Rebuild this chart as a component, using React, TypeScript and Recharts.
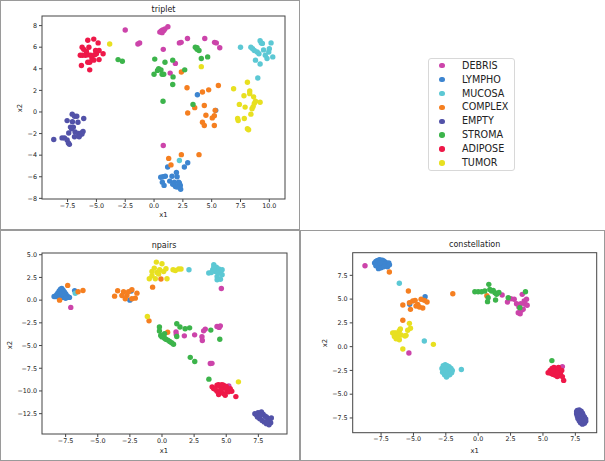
import React from 'react'
import { ScatterChart, Scatter, XAxis, YAxis } from 'recharts'

type Pt = [number, number]

const classes = ['DEBRIS', 'LYMPHO', 'MUCOSA', 'COMPLEX', 'EMPTY', 'STROMA', 'ADIPOSE', 'TUMOR']
const colors = ['#cc44aa', '#3d85d0', '#5cc8d4', '#f57f20', '#5252a8', '#3cb44b', '#ee1848', '#e8e020']

// ---- triplet ----
const tDebris: Pt[] = [[-2.5, 7.6], [-1.4, 6.3], [-1.25, 6.4], [0.5, 7.4], [0.62, 7.5], [0.75, 7.6], [0.85, 7.55], [0.95, 7.7], [1.2, 7.9], [0.7, 7.35], [0.8, 5.8], [1.85, 4.5], [1.4, 3.6], [2.2, 6.4], [2.35, 6.45], [2.9, 6.8], [4.4, 6.8], [5.25, 6.45], [5.4, 6.4], [5.7, 5.95], [0.8, -3.1]]
const tLympho: Pt[] = [[0.78, -6.0], [0.58, -6.05], [0.98, -5.95], [0.72, -6.5], [0.87, -6.8], [1.18, -5.1], [1.36, -6.4], [1.56, -5.95], [1.76, -6.5], [1.94, -5.6], [2.0, -6.0], [2.14, -6.5], [2.28, -6.8], [1.85, -6.9], [2.31, -7.15], [2.2, -6.6], [2.63, -5.1], [2.92, -4.7], [1.62, -6.7], [2.0, -6.95], [3.76, 1.6], [5.35, 0.15]]
const tMucosa: Pt[] = [[7.5, 6.0], [8.4, 6.0], [8.55, 5.85], [8.7, 5.7], [8.95, 5.55], [9.2, 6.6], [9.3, 6.4], [9.4, 6.35], [9.1, 5.4], [9.5, 5.75], [10.0, 5.85], [9.95, 5.55], [10.15, 6.4], [9.65, 5.25], [9.8, 4.95], [8.8, 4.8], [9.2, 4.45], [10.3, 5.1], [9.0, 3.15], [2.2, -4.5]]
const tComplex: Pt[] = [[2.37, 3.7], [2.86, 2.25], [4.2, 1.85], [4.74, 2.05], [5.58, 2.45], [3.53, 0.4], [4.36, 0.6], [2.92, -0.1], [4.5, -0.3], [4.2, -0.95], [4.36, -1.25], [5.05, -0.55], [5.23, -0.35], [5.3, 0.15], [5.23, -1.25], [1.27, -4.3], [1.47, -4.9], [2.37, -3.95], [3.9, -3.95]]
const tEmpty: Pt[] = [[-8.7, -2.55], [-7.98, -2.4], [-7.77, -2.4], [-7.54, -2.6], [-7.43, -2.87], [-7.34, -3.0], [-7.54, -0.8], [-7.4, -1.95], [-7.25, -1.4], [-7.1, -0.2], [-7.08, -0.9], [-6.9, -0.4], [-6.7, -0.4], [-6.6, -0.95], [-7.0, -1.4], [-7.15, -1.55], [-6.9, -2.3], [-6.85, -1.85], [-6.55, -2.0], [-6.45, -2.15], [-6.3, -1.95], [-6.16, -1.8], [-6.25, -2.05], [-6.1, -0.6], [-6.5, -2.3]]
const tStroma: Pt[] = [[-3.12, 4.85], [-2.75, 4.7], [0.06, 4.9], [0.4, 4.0], [0.6, 3.9], [0.3, 3.85], [0.0, 3.5], [0.7, 3.5], [0.84, 3.5], [0.95, 4.6], [1.62, 4.8], [1.65, 3.25], [1.62, 2.55], [2.66, 3.9], [0.78, 1.0], [3.38, 0.7], [3.58, 6.0], [3.73, 5.8], [3.9, 5.7], [3.73, 5.95], [4.1, 4.95], [4.65, 5.1]]
const tAdipose: Pt[] = [[-5.75, 6.65], [-5.23, 6.75], [-4.85, 6.4], [-6.24, 6.0], [-6.1, 5.8], [-5.65, 6.0], [-5.87, 5.6], [-5.95, 5.25], [-6.4, 5.25], [-6.2, 5.25], [-5.75, 5.3], [-5.5, 5.25], [-5.07, 5.7], [-5.0, 5.4], [-4.77, 5.7], [-4.42, 5.4], [-4.77, 4.85], [-5.23, 4.8], [-5.58, 4.6], [-5.75, 4.6], [-6.3, 4.3], [-5.58, 3.9], [-5.15, 5.3], [-5.38, 4.95]]
const tTumor: Pt[] = [[-3.85, 6.3], [4.1, 4.2], [6.9, 2.15], [8.1, 2.75], [8.3, 1.95], [8.3, 1.7], [7.8, 1.5], [8.64, 1.4], [7.4, 0.7], [7.9, 0.45], [8.5, 0.3], [8.7, 0.8], [8.8, 1.0], [9.2, 0.9], [7.25, -0.6], [7.3, -0.8], [7.83, -0.6], [8.4, -0.2], [8.1, -1.55], [8.2, -1.65], [8.6, 0.5]]

// ---- npairs ----
const nDebris: Pt[] = [[-7.1, -0.8], [4.62, 1.28], [1.09, -3.49], [1.11, -3.78], [1.74, -3.93], [2.54, -3.82], [3.11, -4.04], [3.14, -4.45], [3.24, -3.38], [3.37, -3.19], [4.28, -2.9], [4.54, -2.83], [4.45, -3.0], [3.76, -6.98], [3.89, -6.96], [5.2, -9.45]]
const nLympho: Pt[] = [[-8.3, 0.4], [-8.2, 0.6], [-8.1, 0.8], [-8.0, 1.0], [-7.9, 1.2], [-7.8, 1.3], [-7.7, 1.1], [-7.6, 0.9], [-7.5, 0.7], [-7.4, 0.5], [-7.3, 0.35], [-7.2, 0.3], [-7.7, 0.3], [-7.9, 0.35], [-8.0, 0.2], [-7.6, 0.5], [-7.8, 0.7], [-7.5, 0.2], [-8.4, 0.4], [-6.8, 1.05], [-2.4, 1.0], [-2.5, 0.0]]
const nMucosa: Pt[] = [[-6.75, 0.75], [2.1, 3.35], [4.03, 3.9], [4.23, 3.64], [4.42, 3.42], [4.55, 3.16], [4.68, 2.8], [4.55, 2.3], [4.29, 2.6], [4.16, 3.16], [3.95, 3.35], [3.64, 2.98], [3.84, 3.05], [4.42, 2.98], [4.68, 3.35], [4.29, 2.24], [4.03, 3.64]]
const nComplex: Pt[] = [[-7.34, 1.62], [-7.97, 0.0], [-6.53, 0.92], [-6.15, 1.06], [-3.69, 0.44], [-3.45, 1.03], [-2.99, 0.92], [-2.73, 0.51], [-2.86, 0.15], [-2.6, 0.92], [-2.34, 1.14], [-1.95, 0.77], [-2.08, 0.22], [-2.34, 0.15], [-3.12, 0.51], [-0.73, 1.43], [-0.08, 2.32], [-1.01, -2.28], [0.44, -3.53]]
const nEmpty: Pt[] = [[7.23, -12.5], [7.36, -12.68], [7.48, -12.39], [7.74, -12.31], [7.87, -12.57], [8.0, -12.75], [8.13, -12.87], [8.25, -13.05], [8.38, -13.24], [8.46, -13.5], [8.33, -13.72], [8.13, -13.6], [7.95, -13.41], [7.79, -13.24], [7.61, -13.05], [7.43, -12.87], [8.51, -12.98], [8.2, -13.35], [7.61, -12.68]]
const nStroma: Pt[] = [[-0.2, -2.95], [-0.2, -3.4], [-0.1, -3.9], [0.0, -4.05], [0.1, -3.9], [0.2, -4.2], [0.3, -4.3], [0.45, -4.4], [0.6, -4.55], [0.75, -4.7], [0.9, -4.85], [0.2, -3.7], [1.15, -2.6], [1.4, -2.95], [1.8, -3.15], [2.15, -3.05], [1.15, -4.0], [3.8, -3.3], [4.5, -4.3], [2.2, -6.3], [2.55, -6.75], [3.65, -8.7]]
const nAdipose: Pt[] = [[3.9, -9.55], [4.02, -9.74], [4.28, -9.37], [4.41, -9.3], [4.54, -9.55], [4.66, -9.74], [4.79, -9.37], [4.92, -9.66], [5.05, -9.92], [5.18, -10.1], [5.31, -9.74], [5.43, -10.03], [4.54, -10.1], [4.41, -10.4], [4.28, -10.03], [4.79, -10.29], [4.92, -10.47], [4.66, -9.3], [4.15, -9.81], [5.75, -10.62], [5.0, -9.5], [4.6, -9.9]]
const nTumor: Pt[] = [[-0.44, 4.19], [0.0, 4.0], [-0.99, 2.35], [-0.52, 2.35], [0.39, 2.35], [-0.78, 3.16], [-0.6, 3.53], [-0.39, 3.05], [-0.18, 3.35], [0.13, 3.16], [0.31, 3.46], [0.86, 3.35], [1.04, 3.27], [1.3, 3.42], [1.48, 3.42], [-0.78, 2.68], [-0.26, 2.87], [-1.14, -1.8], [5.95, -9.0]]

// ---- constellation ----
const cDebris: Pt[] = [[-8.74, 8.5], [-5.35, -0.67], [1.85, 5.43], [2.26, 4.69], [2.52, 5.04], [2.78, 4.98], [2.96, 4.51], [3.14, 4.17], [3.09, 3.57], [3.24, 3.46], [3.34, 3.82], [3.4, 5.5], [3.55, 4.8], [3.65, 4.45], [3.73, 4.98], [3.47, 3.93], [3.78, 4.35], [3.29, 4.51], [6.5, -2.1]]
const cLympho: Pt[] = [[-8.0, 8.8], [-7.9, 8.95], [-7.8, 9.05], [-7.7, 9.1], [-7.6, 9.15], [-7.5, 9.05], [-7.4, 9.1], [-7.3, 9.0], [-7.2, 8.9], [-7.1, 8.8], [-7.0, 8.7], [-6.9, 8.8], [-7.8, 8.6], [-7.6, 8.5], [-7.4, 8.7], [-7.2, 8.5], [-7.5, 8.3], [-7.7, 8.2], [-7.3, 8.4], [-7.9, 8.5], [-7.0, 8.4], [-7.6, 8.8], [-6.85, 8.6], [-5.29, 4.45], [-4.1, 5.25]]
const cMucosa: Pt[] = [[-6.09, 6.66], [-4.16, 0.59], [-2.8, -2.3], [-2.7, -2.0], [-2.55, -1.9], [-2.4, -2.0], [-2.25, -2.1], [-2.1, -2.3], [-2.0, -2.5], [-2.05, -2.75], [-2.2, -2.95], [-2.4, -3.05], [-2.6, -2.95], [-2.75, -2.7], [-2.5, -2.5], [-2.3, -2.6], [-2.6, -2.2], [-2.2, -2.4], [-1.3, -2.4], [-2.45, -3.2]]
const cComplex: Pt[] = [[-6.86, 7.85], [-5.39, 5.85], [-1.96, 5.57], [-5.82, 4.38], [-5.31, 4.62], [-5.23, 3.92], [-4.87, 4.87], [-4.8, 4.27], [-4.67, 4.45], [-4.54, 4.17], [-4.41, 4.98], [-4.28, 4.06], [-4.16, 4.87], [-3.95, 4.7], [-5.82, 2.77], [-5.05, 4.8], [0.67, 5.35]]
const cEmpty: Pt[] = [[7.65, -6.7], [7.8, -6.65], [7.95, -6.8], [8.05, -7.0], [8.1, -7.2], [8.2, -7.4], [8.3, -7.6], [8.3, -7.85], [8.2, -8.05], [8.05, -8.15], [7.9, -8.0], [7.8, -7.8], [7.7, -7.55], [7.65, -7.3], [7.6, -7.05], [7.6, -6.85], [7.9, -7.3], [8.0, -7.6], [8.15, -7.8], [7.75, -7.15]]
const cStroma: Pt[] = [[-0.26, 5.78], [0.0, 5.78], [0.26, 5.78], [0.51, 5.85], [0.82, 6.55], [0.9, 6.02], [1.03, 5.85], [1.16, 5.92], [1.29, 5.68], [1.42, 5.5], [0.77, 5.15], [0.72, 4.73], [1.34, 4.9], [2.32, 5.15], [3.65, 5.78], [3.21, 4.1], [5.69, -1.47], [1.6, 5.7]]
const cAdipose: Pt[] = [[5.4, -2.75], [5.55, -2.5], [5.7, -2.3], [5.85, -2.2], [6.0, -2.3], [6.15, -2.4], [6.3, -2.6], [6.35, -2.85], [6.25, -3.05], [6.1, -3.15], [5.95, -3.0], [5.75, -2.9], [5.6, -2.8], [5.9, -2.6], [6.1, -2.7], [6.5, -3.15], [6.6, -3.55], [5.8, -2.55], [6.2, -2.2], [6.45, -2.5]]
const cTumor: Pt[] = [[-6.6, 1.43], [-6.47, 1.08], [-6.34, 0.83], [-6.21, 1.33], [-6.09, 1.68], [-6.01, 1.85], [-6.09, 0.73], [-6.34, 1.43], [-5.95, 1.22], [-5.65, 1.12], [-5.57, 1.19], [-5.44, 1.72], [-5.31, 2.45], [-5.23, 1.93], [-5.82, -0.25], [-6.47, 1.43], [-6.21, 0.9], [-3.46, 0.24]]

const halfTicks = [-7.5, -5, -2.5, 0, 2.5, 5, 7.5]
const tripletXTicks = [-7.5, -5, -2.5, 0, 2.5, 5, 7.5, 10]
const tripletYTicks = [-8, -6, -4, -2, 0, 2, 4, 6, 8]
const npairsYTicks = [-12.5, -10, -7.5, -5, -2.5, 0, 2.5, 5]

const FONT = '"DejaVu Sans", sans-serif'
const minus = (s: string) => s.replace('-', '\u2212')
const fmt1 = (v: number) => minus(v.toFixed(1))
const fmt0 = (v: number) => minus(v.toFixed(0))

const Dot = (props: any) => <circle cx={props.cx} cy={props.cy} r={2.7} fill={props.fill} />

interface PanelProps {
  left: number
  top: number
  width: number
  height: number
  margin: { top: number; right: number; left: number; bottom: number }
  yAxisW: number
  xAxisH: number
  series: Pt[][]
  xDomain: [number, number]
  yDomain: [number, number]
  xTicks: number[]
  yTicks: number[]
  yFmt: (v: number) => string
}

const Panel = (p: PanelProps) => {
  const tick = { fontSize: 6.4, fill: '#222', fontFamily: FONT }
  // plot box (all four spines), drawn on top of the chart
  const bx = p.margin.left + p.yAxisW
  const by = p.margin.top
  const bw = p.width - bx - p.margin.right
  const bh = p.height - by - p.xAxisH - p.margin.bottom
  return (
    <div style={{ position: 'absolute', left: p.left, top: p.top }}>
      <ScatterChart width={p.width} height={p.height} margin={p.margin}>
        <XAxis type="number" dataKey="x" domain={p.xDomain} ticks={p.xTicks} interval={0}
          allowDataOverflow tickFormatter={fmt1} height={p.xAxisH} tick={tick}
          tickSize={3} tickMargin={1} stroke="#444" axisLine={false} />
        <YAxis type="number" dataKey="y" domain={p.yDomain} ticks={p.yTicks} interval={0}
          allowDataOverflow tickFormatter={p.yFmt} width={p.yAxisW} tick={tick}
          tickSize={3} tickMargin={2} stroke="#444" axisLine={false} />
        {p.series.map((pts, i) => (
          <Scatter key={classes[i]} name={classes[i]} data={pts.map(([x, y]) => ({ x, y }))}
            fill={colors[i]} shape={Dot} isAnimationActive={false} />
        ))}
      </ScatterChart>
      <svg width={p.width} height={p.height} style={{ position: 'absolute', left: 0, top: 0, pointerEvents: 'none' }}>
        <rect x={bx} y={by} width={bw} height={bh} fill="none" stroke="#444" strokeWidth={1} />
      </svg>
    </div>
  )
}

const Txt = ({ x, y, size, children, rotate }: any) => (
  <div style={{
    position: 'absolute', left: x, top: y, fontSize: size, fontFamily: FONT, color: '#222',
    lineHeight: 1, whiteSpace: 'nowrap',
    transform: `translate(-50%, -50%)${rotate ? ' rotate(-90deg)' : ''}`,
  }}>{children}</div>
)

const Frame = ({ x, y, w, h }: any) => (
  <div style={{ position: 'absolute', left: x, top: y, width: w, height: h, border: '1px solid #9a9a9a', boxSizing: 'border-box' }} />
)

export default function App() {
  return (
    <div style={{ position: 'absolute', left: 0, top: 0, width: 605, height: 461, background: '#fff', overflow: 'hidden' }}>
      <Frame x={0} y={0} w={300} h={230} />
      <Frame x={0} y={230} w={300} h={231} />
      <Frame x={300} y={230} w={305} h={231} />

      <Panel left={0} top={0} width={300} height={230}
        margin={{ top: 16, right: 15, left: 0, bottom: 0 }} yAxisW={42} xAxisH={31}
        series={[tDebris, tLympho, tMucosa, tComplex, tEmpty, tStroma, tAdipose, tTumor]}
        xDomain={[-9.72, 11.36]} yDomain={[-8.06, 8.89]}
        xTicks={tripletXTicks} yTicks={tripletYTicks} yFmt={fmt0} />
      <Txt x={163.5} y={10} size={8}>triplet</Txt>
      <Txt x={163.5} y={215} size={6.8}>x1</Txt>
      <Txt x={20} y={108} size={6.8} rotate>x2</Txt>

      <Panel left={0} top={230} width={300} height={231}
        margin={{ top: 23, right: 13, left: 0, bottom: 0 }} yAxisW={42} xAxisH={27}
        series={[nDebris, nLympho, nMucosa, nComplex, nEmpty, nStroma, nAdipose, nTumor]}
        xDomain={[-9.34, 9.73]} yDomain={[-14.74, 5.19]}
        xTicks={halfTicks} yTicks={npairsYTicks} yFmt={fmt1} />
      <Txt x={164} y={245.5} size={8}>npairs</Txt>
      <Txt x={164} y={450.5} size={6.8}>x1</Txt>
      <Txt x={10} y={345} size={6.8} rotate>x2</Txt>

      <Panel left={300} top={230} width={305} height={231}
        margin={{ top: 22.7, right: 8.3, left: 0, bottom: 0 }} yAxisW={52.7} xAxisH={28.3}
        series={[cDebris, cLympho, cMucosa, cComplex, cEmpty, cStroma, cAdipose, cTumor]}
        xDomain={[-9.69, 9.15]} yDomain={[-9.05, 9.88]}
        xTicks={halfTicks} yTicks={halfTicks} yFmt={fmt1} />
      <Txt x={474.7} y={245} size={8}>constellation</Txt>
      <Txt x={474.7} y={450.5} size={6.8}>x1</Txt>
      <Txt x={325} y={343} size={6.8} rotate>x2</Txt>

      <div style={{ position: 'absolute', left: 428, top: 58, width: 87, height: 113, border: '1px solid #d8d8d8', borderRadius: 3, boxSizing: 'border-box' }} />
      {classes.map((c, i) => (
        <React.Fragment key={c}>
          <div style={{ position: 'absolute', left: 439.2, top: 65.7 + i * 13.9 - 2.8, width: 5.6, height: 5.6, borderRadius: '50%', background: colors[i] }} />
          <div style={{ position: 'absolute', left: 462, top: 65.7 + i * 13.9, transform: 'translateY(-50%)', fontSize: 9.6, fontFamily: FONT, color: '#222', lineHeight: 1 }}>{c}</div>
        </React.Fragment>
      ))}
    </div>
  )
}
